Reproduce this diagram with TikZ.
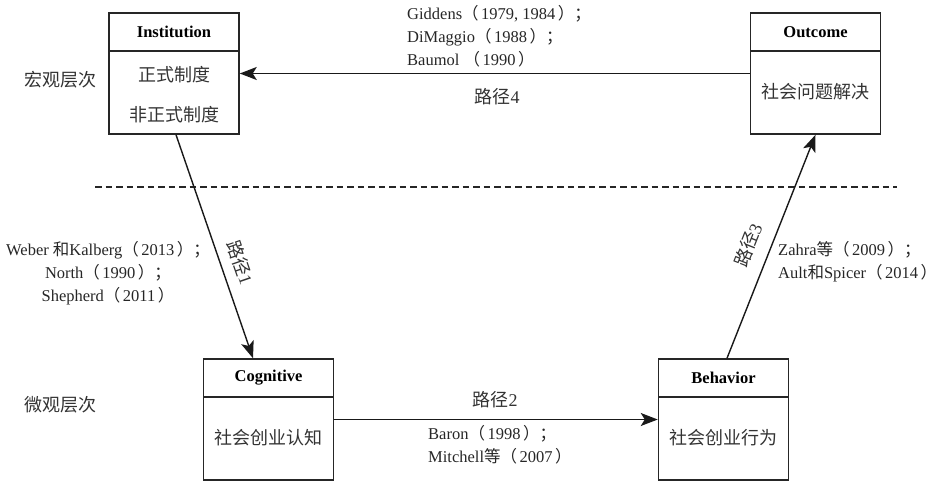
\documentclass[tikz,border=0pt]{standalone}
\usepackage{fontspec}
\setmainfont{Liberation Serif}
\newfontfamily\cjk{Noto Sans CJK SC}
\usetikzlibrary{arrows.meta,calc}
\newcommand\zh[1]{{\cjk #1}}
\newcommand\zlp{\zh{（}\hspace{2.5pt}}
\newcommand\zrp{\hspace{2.5pt}\zh{）}}
\newcommand\zsemi{\zh{；}}
\begin{document}
\begin{tikzpicture}[x=1pt,y=-1pt,
  box/.style={draw=black!85, line width=1.5pt, minimum width=130pt, minimum height=121pt, inner sep=0pt},
  hdr/.style={draw=black!85, line width=1.5pt, minimum width=130pt, minimum height=38pt, anchor=north, inner sep=0pt, font=\bfseries\fontsize{16.5}{18}\selectfont},
  zhtext/.style={font=\cjk\fontsize{18}{20}\selectfont, text=black!80, inner sep=0pt},
  cite/.style={font=\fontsize{16.5}{23}\selectfont, text=black!85, inner sep=0pt},
  arr/.style={-{Stealth[length=17pt,width=13pt,inset=4pt]}, line width=1.4pt, draw=black!90},
  plabel/.style={font=\fontsize{18}{20}\selectfont, text=black!80, inner sep=0pt, sloped}
]
\useasboundingbox (0,0) rectangle (947,481);

% boxes
\node[box] (inst) at (174,73.5) {};
\node[hdr] (insth) at (inst.north) {Institution};
\node[zhtext] (inst1) at (174,75) {正式制度};
\node[zhtext] (inst2) at (174,115) {非正式制度};

\node[box] (out) at (815.5,73.5) {};
\node[hdr] (outh) at (out.north) {Outcome};
\node[zhtext] (out1) at (815.5,92) {社会问题解决};

\node[box] (cog) at (268.5,419.5) {};
\node[hdr] (cogh) at (cog.north) {Cognitive};
\node[zhtext] (cog1) at (268.5,438) {社会创业认知};

\node[box] (beh) at (723.5,419.5) {};
\node[hdr] (behh) at (beh.north) {Behavior};
\node[zhtext] (beh1) at (723.5,438) {社会创业行为};

% level labels
\node[zhtext] (macro) at (60,80) {宏观层次};
\node[zhtext] (micro) at (60,405) {微观层次};

% dashed separator
\coordinate (dl) at (95,187);
\coordinate (dr) at (897,187);
\draw[dash pattern=on 6.5pt off 4pt, line width=1.4pt, black!85] (dl) -- (dr);

% path 4
\draw[arr] (out.west) -- (inst.east);
\node[cite, anchor=west, align=left] (c4) at (407,36) {Giddens\zlp 1979, 1984\zrp\zsemi\\DiMaggio\zlp 1988\zrp\zsemi\\Baumol \zlp 1990\zrp};
\node[plabel, sloped=false] (p4) at (497,97) {\zh{路径}4};

% path 1
\draw[arr] ([xshift=2pt]inst.south) -- node[plabel, above=10pt, pos=0.6] (p1) {\zh{路径}1} ([xshift=-15.5pt]cog.north);
\node[cite, align=center] (c1) at (108,273) {Weber \zh{和}Kalberg\zlp 2013\zrp\zsemi\\North\zlp 1990\zrp\zsemi\\Shepherd\zlp 2011\zrp};

% path 2
\draw[arr] (cog.east) -- (beh.west);
\node[plabel, sloped=false] (p2) at (495,400) {\zh{路径}2};
\node[cite, anchor=west, align=left] (c2) at (428,445) {Baron\zlp 1998\zrp\zsemi\\Mitchell\zh{等}\zlp 2007\zrp};

% path 3
\draw[arr] ([xshift=3.5pt]beh.north) -- node[plabel, above=13pt, pos=0.47] (p3) {\zh{路径}3} (out.south);
\node[cite, anchor=west, align=left] (c3) at (778,262) {Zahra\zh{等}\zlp 2009\zrp\zsemi\\Ault\zh{和}Spicer\zlp 2014\zrp};
\end{tikzpicture}
\end{document}
